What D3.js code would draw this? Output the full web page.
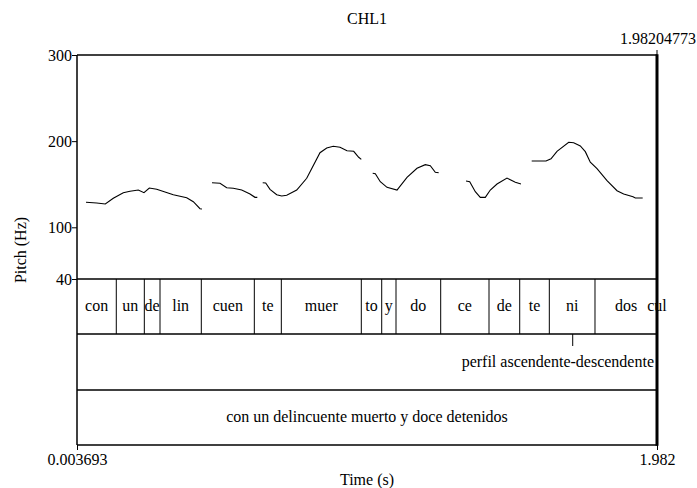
<!DOCTYPE html>
<html>
<head>
<meta charset="utf-8">
<script src="https://cdn.jsdelivr.net/npm/d3@7"></script>
<style>
  html, body { margin: 0; padding: 0; background: #fff; }
  svg { display: block; }
</style>
</head>
<body>
<svg id="chart" width="697" height="488"></svg>
<script>
// ---- data ----
const title = "CHL1";
const tStart = 0.003693;
const tEnd = 1.982;
const tEndFull = "1.98204773";
const yTicks = [40, 100, 200, 300];
const xTickLabels = ["0.003693", "1.982"];

// pitch contour segments: [time (s), pitch (Hz)]
const seg1 = [[0.0344,129.0],[0.0709,128.2],[0.1002,127.1],[0.1275,133.7],[0.1616,140.2],[0.1845,141.8],[0.2128,143.3],[0.2322,140.2],[0.2503,145.6],[0.2755,144.1],[0.3322,137.8],[0.3779,134.4],[0.4004,129.7],[0.4232,121.6],[0.4301,121.2]];
const seg2 = [[0.4642,151.8],[0.4915,151.1],[0.5143,146.0],[0.5368,145.3],[0.5655,143.3],[0.5938,138.7],[0.6108,134.8],[0.6187,134.8]];
const seg3 = [[0.6371,151.8],[0.6473,151.4],[0.6620,144.1],[0.6849,137.8],[0.7019,136.3],[0.7190,137.2],[0.7531,143.3],[0.7872,156.9],[0.8325,186.6],[0.8554,192.1],[0.8779,194.0],[0.9008,192.9],[0.9246,188.9],[0.9475,188.2],[0.9645,181.3],[0.9734,178.9]];
const seg4 = [[1.0123,162.7],[1.0212,162.2],[1.0382,152.9],[1.0611,146.4],[1.0952,143.3],[1.1293,158.0],[1.1634,168.5],[1.1917,172.7],[1.2088,171.5],[1.2258,163.8],[1.2374,163.4]];
const seg5 = [[1.3305,153.7],[1.3432,152.9],[1.3623,141.3],[1.3793,134.8],[1.3964,134.8],[1.4134,143.3],[1.4363,150.3],[1.4704,157.2],[1.4987,152.2],[1.5181,150.3]];
const seg6 = [[1.5546,177.0],[1.6034,177.0],[1.6205,179.6],[1.6409,188.2],[1.6808,198.7],[1.6979,198.2],[1.7204,194.4],[1.7375,187.8],[1.7545,175.5],[1.7774,168.0],[1.8115,154.1],[1.8456,142.5],[1.8684,138.7],[1.9002,135.5],[1.9080,134.0],[1.9332,134.0]];
const pitchSegments = [seg1, seg2, seg3, seg4, seg5, seg6];

// syllable tier
const syllables = ["con","un","de","lin","cuen","te","muer","to","y","do","ce","de","te","ni","dos","cul"];
const syllableStarts = [0.003693,0.1377,0.2333,0.2868,0.4277,0.6085,0.7006,0.9734,1.0430,1.0918,1.2442,1.4090,1.5137,1.6147,1.7705,1.982];
const syllableEnds   = [0.1377,0.2333,0.2868,0.4277,0.6085,0.7006,0.9734,1.0430,1.0918,1.2442,1.4090,1.5137,1.6147,1.7705,1.982,1.982];

// point tier
const pointTimes = [1.6945];
const pointLabels = ["perfil ascendente-descendente"];

// sentence tier
const sentence = "con un delincuente muerto y doce detenidos";

// ---- layout ----
const FONT = "Liberation Serif";
const svg = d3.select("#chart");
const L = 77, R = 657, T = 55;
const pitchBottom = 279, tier1Bottom = 334, tier2Bottom = 390, B = 445;
const fs = 16;

const x = d3.scaleLinear().domain([tStart, tEnd]).range([L, R]);
const y = d3.scaleLinear().domain([40, 300]).range([pitchBottom, T]);

// pitch contour
const line = d3.line().x(d => x(d[0])).y(d => y(d[1]));
svg.append("g").selectAll("path").data(pitchSegments).join("path")
  .attr("d", line).attr("fill", "none").attr("stroke", "#000").attr("stroke-width", 1.1);

// frame lines
const hl = [T, pitchBottom, tier1Bottom, tier2Bottom, B];
svg.append("g").selectAll("line").data(hl).join("line")
  .attr("x1", L).attr("x2", R).attr("y1", d => d).attr("y2", d => d)
  .attr("stroke", "#000").attr("stroke-width", 1.5);
svg.append("line").attr("x1", L).attr("x2", L).attr("y1", T).attr("y2", B)
  .attr("stroke", "#000").attr("stroke-width", 1.5);
svg.append("line").attr("x1", R).attr("x2", R).attr("y1", T - 0.75).attr("y2", B + 0.75)
  .attr("stroke", "#000").attr("stroke-width", 3);

// y axis
const yAxis = d3.axisLeft(y).tickValues(yTicks).tickSize(5).tickSizeOuter(0).tickFormat(d3.format("d"));
const gy = svg.append("g").attr("transform", `translate(${L},0)`).call(yAxis);
gy.select(".domain").remove();
gy.selectAll(".tick line").attr("stroke", "#000").attr("stroke-width", 1);
gy.selectAll(".tick text").attr("x", -5).attr("dy", "0.34em");

// x axis (bottom)
const xAxis = d3.axisBottom(x).tickValues([tStart, tEnd]).tickSize(5).tickFormat((d, i) => xTickLabels[i]);
const gx = svg.append("g").attr("transform", `translate(0,${B})`).call(xAxis);
gx.select(".domain").remove();
gx.selectAll(".tick line").attr("stroke", "#000").attr("stroke-width", 1);
gx.selectAll(".tick text").attr("y", 9).attr("dy", "0.71em");

// top-right tick + label
svg.append("line").attr("x1", x(tEnd)).attr("x2", x(tEnd)).attr("y1", T - 5).attr("y2", T).attr("stroke", "#000");
svg.append("text").attr("x", x(tEnd) + 1).attr("y", 44).attr("text-anchor", "middle").text(tEndFull);

// title & axis titles
svg.append("text").attr("x", (L + R) / 2).attr("y", 24).attr("text-anchor", "middle").text(title);
svg.append("text").attr("x", (L + R) / 2).attr("y", 485).attr("text-anchor", "middle").text("Time (s)");
svg.append("text").attr("transform", `translate(26,${(T + B) / 2}) rotate(-90)`).attr("text-anchor", "middle").text("Pitch (Hz)");

// syllable tier
const sylData = syllables.map((s, i) => ({ s, a: syllableStarts[i], b: syllableEnds[i] }));
svg.append("g").selectAll("line").data(sylData.slice(1).filter(d => d.a < tEnd)).join("line")
  .attr("x1", d => x(d.a)).attr("x2", d => x(d.a)).attr("y1", pitchBottom).attr("y2", tier1Bottom)
  .attr("stroke", "#000").attr("stroke-width", 1);
svg.append("g").selectAll("text").data(sylData).join("text")
  .attr("x", d => x((d.a + d.b) / 2)).attr("y", (pitchBottom + tier1Bottom) / 2)
  .attr("dy", "0.3em").attr("text-anchor", "middle").text(d => d.s);

// point tier
svg.append("g").selectAll("line").data(pointTimes).join("line")
  .attr("x1", d => x(d)).attr("x2", d => x(d)).attr("y1", tier1Bottom).attr("y2", tier1Bottom + 12)
  .attr("stroke", "#000").attr("stroke-width", 1);
svg.append("g").selectAll("text").data(pointLabels).join("text")
  .attr("x", R - 3).attr("y", 362).attr("dy", "0.3em").attr("text-anchor", "end").text(d => d);

// sentence tier
svg.append("text").attr("x", (L + R) / 2).attr("y", (tier2Bottom + B) / 2).attr("dy", "0.3em")
  .attr("text-anchor", "middle").text(sentence);

// apply font to all text
svg.selectAll("g").attr("font-family", null).attr("font-size", null);
svg.selectAll("text").attr("font-family", FONT).attr("font-size", fs).attr("fill", "#000");
</script>
</body>
</html>
